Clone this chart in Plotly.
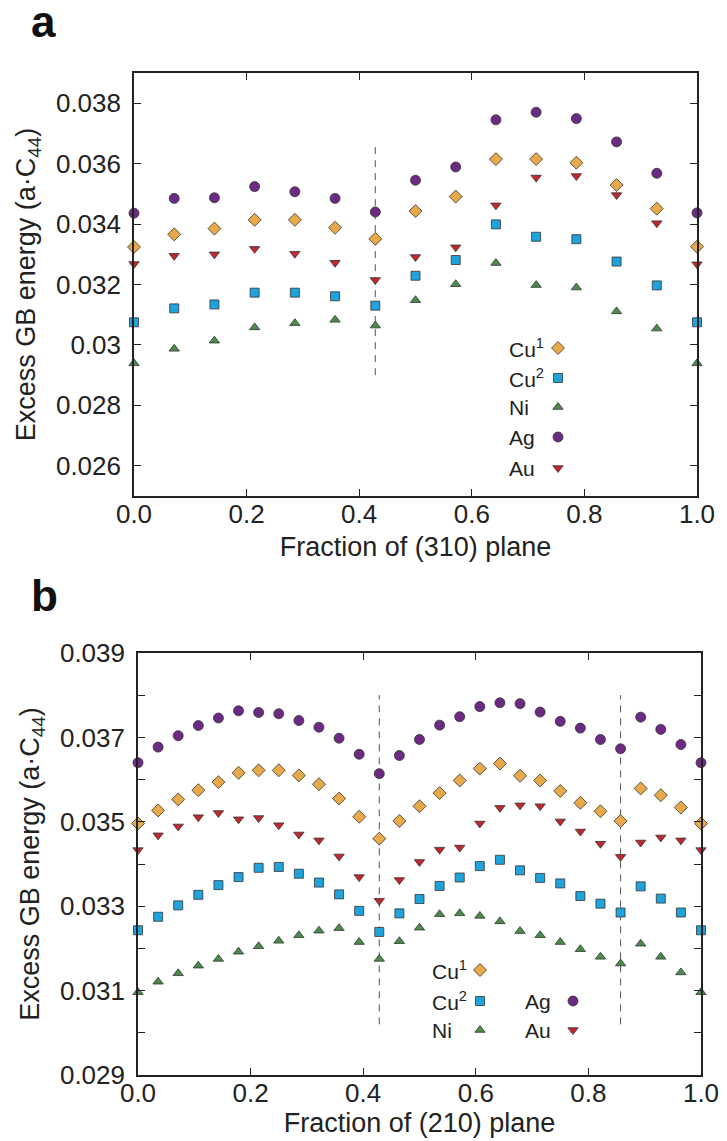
import plotly.graph_objects as go

# ---------------- data ----------------
# Panel a: fraction of (310) plane, 15 points k/14
frac_a = [k / 14 for k in range(15)]
cu1_a = [0.03324, 0.03366, 0.03385, 0.03414, 0.03414, 0.03388, 0.03351, 0.03443,
         0.03491, 0.03615, 0.03615, 0.03603, 0.03529, 0.03451, 0.03325]
cu2_a = [0.03075, 0.03121, 0.03134, 0.03173, 0.03173, 0.03161, 0.03130, 0.03229,
         0.03281, 0.03399, 0.03358, 0.03350, 0.03276, 0.03197, 0.03075]
ni_a = [0.02939, 0.02987, 0.03014, 0.03058, 0.03072, 0.03083, 0.03064, 0.03148,
        0.03201, 0.03271, 0.03198, 0.03190, 0.03111, 0.03054, 0.02939]
ag_a = [0.03436, 0.03485, 0.03487, 0.03524, 0.03507, 0.03485, 0.03440, 0.03545,
        0.03589, 0.03745, 0.03770, 0.03749, 0.03672, 0.03568, 0.03437]
au_a = [0.03268, 0.03295, 0.03300, 0.03318, 0.03302, 0.03272, 0.03215, 0.03291,
        0.03323, 0.03462, 0.03554, 0.03559, 0.03496, 0.03403, 0.03267]
dash_a_x = [6 / 14]
dash_a_y = [0.0290, 0.0367]

# Panel b: fraction of (210) plane, 29 points k/28
frac_b = [k / 28 for k in range(29)]
cu1_b = [0.03496, 0.03527, 0.03553, 0.03575, 0.03594, 0.03616, 0.03622, 0.03622,
         0.03610, 0.03589, 0.03555, 0.03512, 0.03460, 0.03502, 0.03537, 0.03568,
         0.03598, 0.03626, 0.03638, 0.03609, 0.03598, 0.03573, 0.03545, 0.03525,
         0.03502, 0.03579, 0.03563, 0.03534, 0.03496]
cu2_b = [0.03243, 0.03275, 0.03302, 0.03327, 0.03350, 0.03369, 0.03391, 0.03393,
         0.03377, 0.03356, 0.03328, 0.03289, 0.03239, 0.03283, 0.03317, 0.03348,
         0.03368, 0.03395, 0.03410, 0.03385, 0.03367, 0.03354, 0.03324, 0.03306,
         0.03285, 0.03347, 0.03318, 0.03285, 0.03243]
ni_b = [0.03096, 0.03121, 0.03141, 0.03159, 0.03175, 0.03192, 0.03205, 0.03218,
        0.03231, 0.03242, 0.03248, 0.03215, 0.03175, 0.03217, 0.03249, 0.03281,
        0.03283, 0.03277, 0.03264, 0.03241, 0.03231, 0.03215, 0.03198, 0.03180,
        0.03164, 0.03211, 0.03180, 0.03143, 0.03096]
ag_b = [0.03640, 0.03677, 0.03704, 0.03728, 0.03746, 0.03763, 0.03759, 0.03756,
        0.03740, 0.03724, 0.03698, 0.03660, 0.03614, 0.03657, 0.03695, 0.03729,
        0.03749, 0.03773, 0.03782, 0.03780, 0.03760, 0.03738, 0.03722, 0.03695,
        0.03673, 0.03748, 0.03719, 0.03683, 0.03640]
au_b = [0.03433, 0.03468, 0.03489, 0.03511, 0.03521, 0.03506, 0.03509, 0.03492,
        0.03470, 0.03456, 0.03418, 0.03369, 0.03313, 0.03362, 0.03405, 0.03434,
        0.03439, 0.03496, 0.03533, 0.03539, 0.03537, 0.03501, 0.03477, 0.03448,
        0.03417, 0.03451, 0.03463, 0.03456, 0.03433]
dash_b_x = [12 / 28, 24 / 28]
dash_b_y = [0.0302, 0.0380]

# tick labels
x_ticks = [0.0, 0.2, 0.4, 0.6, 0.8, 1.0]
x_ticktext = ["0.0", "0.2", "0.4", "0.6", "0.8", "1.0"]
ya_ticks = [0.026, 0.028, 0.030, 0.032, 0.034, 0.036, 0.038]
ya_ticktext = ["0.026", "0.028", "0.03", "0.032", "0.034", "0.036", "0.038"]
yb_ticks = [0.029, 0.030, 0.031, 0.032, 0.033, 0.034, 0.035, 0.036, 0.037, 0.038, 0.039]
yb_ticktext = ["0.029", "", "0.031", "", "0.033", "", "0.035", "", "0.037", "", "0.039"]

series_names = ["Cu<sup>1</sup>", "Cu<sup>2</sup>", "Ni", "Ag", "Au"]
series_a = [cu1_a, cu2_a, ni_a, ag_a, au_a]
series_b = [cu1_b, cu2_b, ni_b, ag_b, au_b]

# ---------------- styles ----------------
colors = ["#E8A94B", "#1EA3DC", "#4C8C4A", "#6C2A82", "#C1272D"]
symbols = ["diamond", "square", "triangle-up", "circle", "triangle-down"]
sizes = [10, 9, 9, 10, 9]
edge = "#333333"
FONT = "Liberation Sans, Arial, Helvetica, sans-serif"

W, H = 727, 1141


def fx(px):
    return px / W


def fy(py):
    return 1 - py / H


fig = go.Figure()

# panel a data
for xd in dash_a_x:
    fig.add_trace(go.Scatter(x=[xd, xd], y=dash_a_y, mode="lines", showlegend=False,
                             xaxis="x", yaxis="y",
                             line=dict(color="#555555", width=1, dash="7px,6px")))
for name, ys, c, s, sz in zip(series_names, series_a, colors, symbols, sizes):
    fig.add_trace(go.Scatter(x=frac_a, y=ys, mode="markers", name=name, showlegend=False,
                             cliponaxis=False, xaxis="x", yaxis="y",
                             marker=dict(symbol=s, size=sz, color=c,
                                         line=dict(color=edge, width=0.8))))

# panel b data
for xd in dash_b_x:
    fig.add_trace(go.Scatter(x=[xd, xd], y=dash_b_y, mode="lines", showlegend=False,
                             xaxis="x2", yaxis="y2",
                             line=dict(color="#555555", width=1, dash="7px,6px")))
for name, ys, c, s, sz in zip(series_names, series_b, colors, symbols, sizes):
    fig.add_trace(go.Scatter(x=frac_b, y=ys, mode="markers", name=name, showlegend=False,
                             cliponaxis=False, xaxis="x2", yaxis="y2",
                             marker=dict(symbol=s, size=sz, color=c,
                                         line=dict(color=edge, width=0.8))))

# ---------------- legends (overlay pixel axes) ----------------
# panel a: single column
leg_a_marker_x = 558
leg_a_text_x = 507
leg_a_rows = [348, 378, 407, 437, 468]
# panel b: two columns
leg_b_marker_x = [480, 480, 480, 573, 573]
leg_b_text_x = [430, 430, 430, 523, 523]
leg_b_rows = [970, 1001, 1030, 1001, 1030]

for i in range(5):
    for mx, my in [(leg_a_marker_x, leg_a_rows[i]), (leg_b_marker_x[i], leg_b_rows[i])]:
        fig.add_trace(go.Scatter(x=[mx], y=[my], mode="markers", showlegend=False,
                                 cliponaxis=False, xaxis="x3", yaxis="y3", hoverinfo="skip",
                                 marker=dict(symbol=symbols[i], size=sizes[i], color=colors[i],
                                             line=dict(color=edge, width=0.8))))

annotations = []
for i in range(5):
    for tx, ty in [(leg_a_text_x, leg_a_rows[i]), (leg_b_text_x[i], leg_b_rows[i])]:
        annotations.append(dict(x=tx, y=ty, xref="x3", yref="y3", text=series_names[i],
                                showarrow=False, xanchor="left", yanchor="middle",
                                font=dict(family=FONT, size=21, color="#222222")))

annotations.append(dict(x=fx(30), y=fy(21), xref="paper", yref="paper", text="<b>a</b>",
                        showarrow=False, xanchor="left", yanchor="middle",
                        height=36, valign="middle", borderpad=0,
                        font=dict(family=FONT, size=44, color="#111111")))
annotations.append(dict(x=fx(30), y=fy(595), xref="paper", yref="paper", text="<b>b</b>",
                        showarrow=False, xanchor="left", yanchor="middle",
                        height=36, valign="middle", borderpad=0,
                        font=dict(family=FONT, size=44, color="#111111")))

axis_common = dict(showline=True, linecolor="#222222", linewidth=1.6, mirror="ticks",
                   ticks="inside", ticklen=7, tickwidth=1, tickcolor="#222222",
                   showgrid=False, zeroline=False, automargin=False,
                   tickfont=dict(family=FONT, size=26, color="#222222"))
title_font = dict(family=FONT, size=27, color="#222222")
ytitle = "Excess GB energy (a·C<sub>44</sub>)"

fig.update_layout(
    width=W, height=H,
    margin=dict(l=0, r=0, t=0, b=0),
    paper_bgcolor="white", plot_bgcolor="rgba(0,0,0,0)",
    showlegend=False,
    annotations=annotations,
    xaxis=dict(domain=[fx(134), fx(697)], range=[0, 1], anchor="y",
               tickvals=x_ticks, ticktext=x_ticktext, ticklabelstandoff=-6,
               title=dict(text="Fraction of (310) plane", font=title_font, standoff=9),
               **axis_common),
    yaxis=dict(domain=[fy(496), fy(73)], range=[0.025, 0.039], anchor="x",
               tickvals=ya_ticks, ticktext=ya_ticktext, ticklabelstandoff=6,
               title=dict(text=ytitle, font=title_font, standoff=12),
               **axis_common),
    xaxis2=dict(domain=[fx(138), fx(701)], range=[0, 1], anchor="y2",
                tickvals=x_ticks, ticktext=x_ticktext, ticklabelstandoff=-6,
                title=dict(text="Fraction of (210) plane", font=title_font, standoff=4),
                **axis_common),
    yaxis2=dict(domain=[fy(1075), fy(653)], range=[0.02899999, 0.03900001], anchor="x2",
                tickvals=yb_ticks, ticktext=yb_ticktext, ticklabelstandoff=6,
                title=dict(text=ytitle, font=title_font, standoff=12),
                **axis_common),
    xaxis3=dict(domain=[0, 1], range=[0, W], anchor="y3", visible=False, fixedrange=True),
    yaxis3=dict(domain=[0, 1], range=[H, 0], anchor="x3", visible=False, fixedrange=True),
)

fig.write_html("out.html")
